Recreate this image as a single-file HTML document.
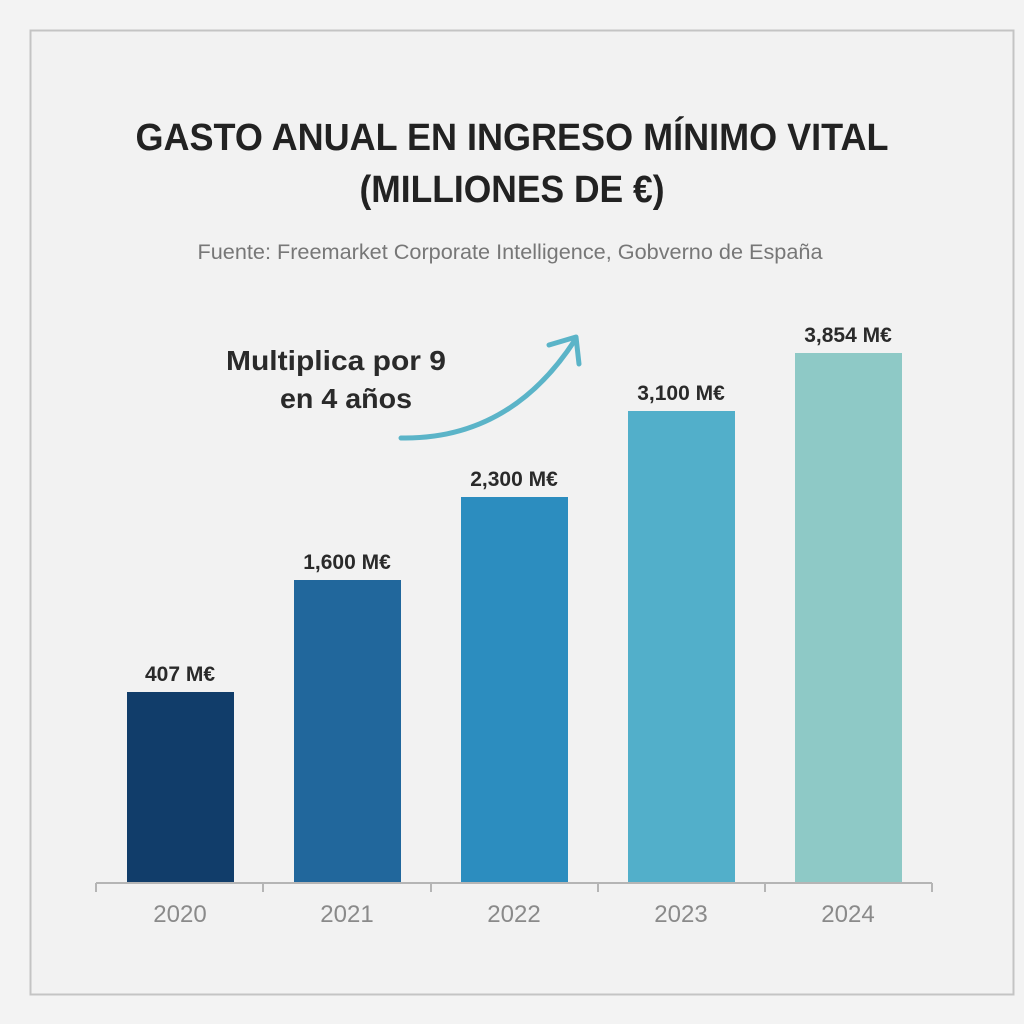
<!DOCTYPE html>
<html><head><meta charset="utf-8"><style>
html,body{margin:0;padding:0;background:#f3f3f3;}
svg{display:block}
</style></head><body>
<svg width="1024" height="1024" xmlns="http://www.w3.org/2000/svg" font-family="Liberation Sans, sans-serif">
<rect width="1024" height="1024" fill="#f3f3f3"/>
<rect x="30.5" y="30.5" width="983" height="964" fill="#f2f2f2" stroke="#c4c4c4" stroke-width="2"/>
<text x="512" y="150" text-anchor="middle" font-size="38" font-weight="bold" fill="#222" textLength="753" lengthAdjust="spacingAndGlyphs">GASTO ANUAL EN INGRESO MÍNIMO VITAL</text>
<text x="512" y="202" text-anchor="middle" font-size="38" font-weight="bold" fill="#222" textLength="305" lengthAdjust="spacingAndGlyphs">(MILLIONES DE €)</text>
<text x="510" y="259" text-anchor="middle" font-size="21" fill="#777" textLength="625" lengthAdjust="spacingAndGlyphs">Fuente: Freemarket Corporate Intelligence, Gobverno de España</text>
<text x="336" y="370" text-anchor="middle" font-size="28" font-weight="bold" fill="#2a2a2a" textLength="220" lengthAdjust="spacingAndGlyphs">Multiplica por 9</text>
<text x="346" y="408" text-anchor="middle" font-size="28" font-weight="bold" fill="#2a2a2a" textLength="132" lengthAdjust="spacingAndGlyphs">en 4 años</text>
<path d="M401 438 Q510 440 575 340" fill="none" stroke="#5bb4c8" stroke-width="5" stroke-linecap="round"/>
<path d="M549 345 L576 337 L579 364" fill="none" stroke="#5bb4c8" stroke-width="5" stroke-linecap="round" stroke-linejoin="round"/>
<rect x="127" y="692" width="107" height="190" fill="#113d6a"/>
<rect x="294" y="580" width="107" height="302" fill="#21679c"/>
<rect x="461" y="497" width="107" height="385" fill="#2c8dbf"/>
<rect x="628" y="411" width="107" height="471" fill="#52afca"/>
<rect x="795" y="353" width="107" height="529" fill="#8ec9c6"/>
<g font-size="21" font-weight="bold" fill="#2a2a2a" text-anchor="middle">
<text x="180" y="681">407 M€</text>
<text x="347" y="569">1,600 M€</text>
<text x="514" y="486">2,300 M€</text>
<text x="681" y="400">3,100 M€</text>
<text x="848" y="342">3,854 M€</text>
</g>
<g stroke="#b5b5b5" stroke-width="2">
<line x1="96" y1="883" x2="932" y2="883"/>
<line x1="96" y1="883" x2="96" y2="892"/>
<line x1="263" y1="883" x2="263" y2="892"/>
<line x1="431" y1="883" x2="431" y2="892"/>
<line x1="598" y1="883" x2="598" y2="892"/>
<line x1="765" y1="883" x2="765" y2="892"/>
<line x1="932" y1="883" x2="932" y2="892"/>
</g>
<g font-size="24" fill="#8a8a8a" text-anchor="middle">
<text x="180" y="922">2020</text>
<text x="347" y="922">2021</text>
<text x="514" y="922">2022</text>
<text x="681" y="922">2023</text>
<text x="848" y="922">2024</text>
</g>
</svg>
</body></html>
